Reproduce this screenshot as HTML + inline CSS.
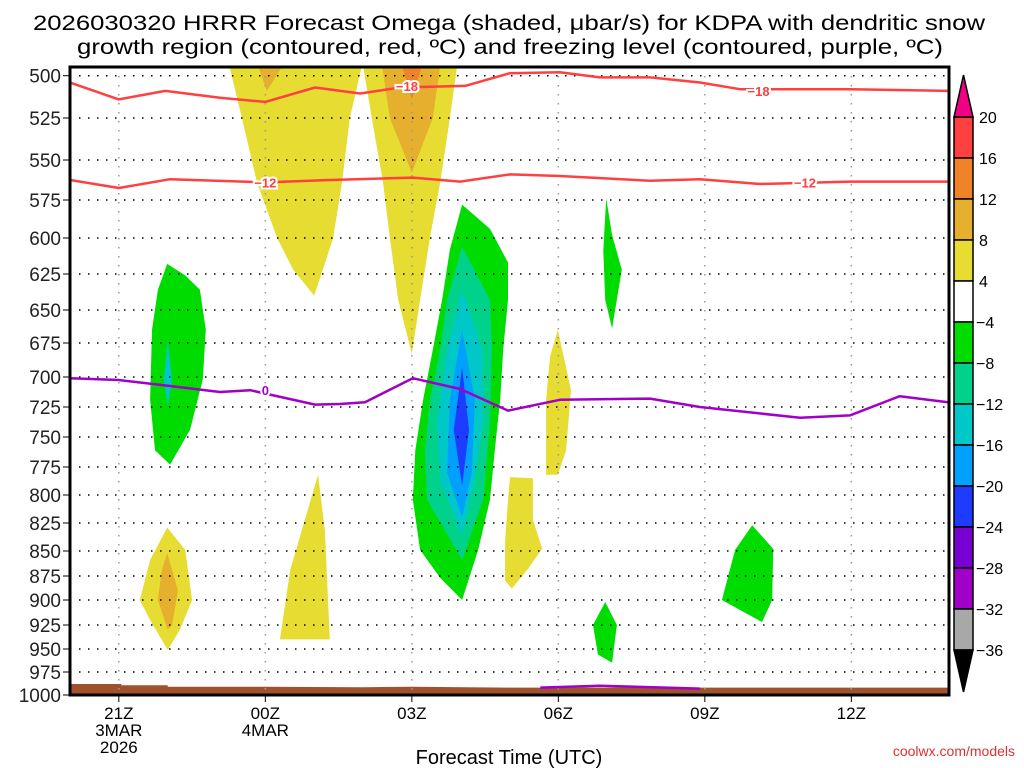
<!DOCTYPE html>
<html><head><meta charset="utf-8"><style>
body{margin:0;background:#fff;}
svg{display:block;font-family:"Liberation Sans",sans-serif;}
</style></head><body>
<svg id="chart" width="1024" height="768" viewBox="0 0 1024 768" xmlns="http://www.w3.org/2000/svg">
<g id="title">
<text x="33" y="30" font-size="21" textLength="952" lengthAdjust="spacingAndGlyphs">2026030320 HRRR Forecast Omega (shaded, μbar/s) for KDPA with dendritic snow</text>
<text x="77" y="54" font-size="21" textLength="866" lengthAdjust="spacingAndGlyphs">growth region (contoured, red, ºC) and freezing level (contoured, purple, ºC)</text>
</g>
<g id="fills"></g>
<g id="grid"></g>
<g id="lines"></g>
<g id="axes"></g>
<g id="cbar"></g>
<text x="509" y="764" font-size="20" text-anchor="middle">Forecast Time (UTC)</text>
<text x="1015" y="756" font-size="14" fill="#e03030" text-anchor="end">coolwx.com/models</text>
</svg>
<script>
// ---- data ----
const pressureTicks = [500,525,550,575,600,625,650,675,700,725,750,775,800,825,850,875,900,925,950,975,1000];
const pressureTickY = [75.7,118,160,200,238,274,310,343,377,407,437,467,495,523,551,576,600,625,649,672,695];
const timeTicks = [21,24,27,30,33,36];
const timeTickLabels = [["21Z","3MAR","2026"],["00Z","4MAR"],["03Z"],["06Z"],["09Z"],["12Z"]];
const cbarLevels = ["20","16","12","8","4","−4","−8","−12","−16","−20","−24","−28","−32","−36"];
const cbarColors = ["#ff4040","#f08228","#e6af2d","#e6dc32","#ffffff","#00dc00","#00d28c","#00c8c8","#00a0ff","#1e3cff","#7800d2","#a000c8","#a8a8a8"];
// shaded omega regions: [color, [[hour, hPa],...]]
const greenLeft = [[21.99,618],[22.36,626],[22.66,636],[22.78,665],[22.72,702],[22.46,744],[22.05,773],[21.74,761],[21.64,719],[21.68,665],[21.8,636]];
const cyanLeft = [[22.0,673],[22.09,702],[22.0,724],[21.92,702]];
const yellowLeft = [[21.99,829],[22.36,849],[22.5,900],[22.25,930],[22.0,951],[21.64,920],[21.43,900],[21.64,859]];
const orangeLeft = [[21.99,852],[22.21,890],[22.09,925],[22.0,930],[21.8,900],[21.88,869]];
const yellowTop1 = [[23.26,494],[25.98,494],[25.73,525],[25.57,564],[25.39,600],[25.0,640],[24.57,622],[24.24,600],[23.83,564],[23.52,525]];
const orangeTop1 = [[23.85,494],[24.36,494],[24.03,509]];
const yellowTop2 = [[26.0,494],[27.93,494],[27.78,525],[27.58,564],[27.37,600],[27.17,643],[27.0,683],[26.72,643],[26.55,600],[26.41,564],[26.18,525]];
const goldTop2 = [[26.39,494],[27.58,494],[27.43,525],[27.0,558],[26.55,525]];
const orangeTop2 = [[26.8,494],[27.21,494],[27.0,514]];
const yellowLow1 = [[25.08,782],[25.22,832],[25.32,940],[24.3,940],[24.51,869],[24.81,822]];
const yellowLow2 = [[29.01,784],[29.48,785],[29.48,822],[29.67,848],[29.36,869],[29.05,888],[28.91,880],[28.91,841],[28.97,804]];
const yellowMid = [[29.99,665],[30.26,711],[30.16,761],[29.99,782],[29.75,782],[29.75,719],[29.83,685]];
const greenBig = [[28.03,578],[28.6,594],[28.97,617],[28.97,643],[28.87,680],[28.81,719],[28.7,761],[28.6,804],[28.36,849],[28.03,900],[27.58,877],[27.17,849],[27.02,804],[27.07,761],[27.23,719],[27.43,680],[27.62,643],[27.78,608]];
const tealBig = [[28.03,606],[28.6,643],[28.64,680],[28.6,736],[28.46,804],[28.03,859],[27.31,804],[27.27,761],[27.37,719],[27.58,680],[27.72,643]];
const cyanBig = [[28.03,636],[28.44,680],[28.46,736],[28.29,787],[28.03,836],[27.58,787],[27.52,736],[27.72,680]];
const lblueBig = [[28.03,665],[28.29,719],[28.23,780],[28.03,820],[27.72,780],[27.78,719]];
const blueBig = [[28.03,693],[28.17,744],[28.03,792],[27.86,744]];
const green07a = [[30.98,574],[31.1,598],[31.3,622],[31.1,664],[30.96,643],[30.92,609]];
const green07b = [[30.96,902],[31.2,925],[31.1,965],[30.81,956],[30.71,925]];
const green10 = [[33.97,827],[34.4,848],[34.38,900],[34.17,922],[33.72,910],[33.35,900],[33.62,849]];
// contours
const minus18Hours = [20,21,21.95,23.07,24,25.02,25.94,26.76,28.09,29.01,30.03,30.85,31.88,32.9,33.72,35.97,37.98];
const minus18P = [504,514,509,513,515.5,507,510.5,507,506,498.5,498,501,501,504,508,508,509];
const minus12Hours = [20,21,22.05,24,25.32,27.02,27.99,29.01,30.03,31.88,32.9,34.13,35.97,37.98];
const minus12P = [562.5,567.5,562,564,562.5,561,563.5,559,560,563,562,565,563.5,563.5];
const zeroHours = [20,21,22.05,23.07,23.69,25.02,25.53,26.04,27.02,27.99,28.97,30.03,31.88,32.9,34.95,35.97,36.99,37.98];
const zeroP = [701,702.5,707.5,712.5,711,723,722.5,721,701,710,728,719,718,725,734,732,716,721];
const zeroLowHours = [29.63,30.85,32.9];
const zeroLowP = [992,990,993];
const surfHours = [20,21.05,21.05,22.0,22.0,24,26,27,29,38];
const surfP = [988,988,989.5,989.5,991,991,991.5,991,992,992];

// ---- axes functions ----
const X0=70,X1=949,H0=20,H1=38;
function xs(h){return X0+(h-H0)/(H1-H0)*(X1-X0);}
function ys(p){
  if(p<=pressureTicks[0]) return pressureTickY[0]-(pressureTicks[0]-p)*(pressureTickY[1]-pressureTickY[0])/25;
  for(let i=0;i<pressureTicks.length-1;i++){
    if(p<=pressureTicks[i+1]){return pressureTickY[i]+(p-pressureTicks[i])/(pressureTicks[i+1]-pressureTicks[i])*(pressureTickY[i+1]-pressureTickY[i]);}
  }
  return pressureTickY[pressureTickY.length-1];
}
const NS="http://www.w3.org/2000/svg";
function mk(tag,attrs,parent){const e=document.createElementNS(NS,tag);for(const k in attrs)e.setAttribute(k,attrs[k]);parent.appendChild(e);return e;}
const fills=document.getElementById('fills'),grid=document.getElementById('grid'),lines=document.getElementById('lines'),axes=document.getElementById('axes'),cbar=document.getElementById('cbar');
// clip
const defs=mk('defs',{},document.getElementById('chart'));
const cp=mk('clipPath',{id:'plotclip'},defs);mk('rect',{x:X0,y:67,width:X1-X0,height:695-67},cp);
fills.setAttribute('clip-path','url(#plotclip)');lines.setAttribute('clip-path','url(#plotclip)');

const regions=[
 ["#e6dc32",yellowTop1,"omega-region-yellow-top-1"],["#e6af2d",orangeTop1,"omega-region-gold-top-1"],
 ["#e6dc32",yellowTop2,"omega-region-yellow-top-2"],["#e6af2d",goldTop2,"omega-region-gold-top-2"],["#f08228",orangeTop2,"omega-region-orange-top-2"],
 ["#e6dc32",yellowLow1,"omega-region-yellow-low-1"],["#e6dc32",yellowLow2,"omega-region-yellow-low-2"],["#e6dc32",yellowMid,"omega-region-yellow-mid"],
 ["#e6dc32",yellowLeft,"omega-region-yellow-left"],["#e6af2d",orangeLeft,"omega-region-gold-left"],
 ["#00dc00",greenLeft,"omega-region-green-left"],["#00c8c8",cyanLeft,"omega-region-cyan-left"],
 ["#00dc00",greenBig,"omega-region-green-main"],["#00d28c",tealBig,"omega-region-teal-main"],["#00c8c8",cyanBig,"omega-region-cyan-main"],["#00a0ff",lblueBig,"omega-region-lightblue-main"],["#1e3cff",blueBig,"omega-region-blue-main"],
 ["#00dc00",green07a,"omega-region-green-07z-upper"],["#00dc00",green07b,"omega-region-green-07z-lower"],["#00dc00",green10,"omega-region-green-10z"]
];
regions.forEach(r=>{
  const el=mk('polygon',{points:r[1].map(q=>xs(q[0]).toFixed(1)+","+ys(q[1]).toFixed(1)).join(" "),fill:r[0]},fills);
  
  
});
// ground
{
  let pts=surfHours.map((h,i)=>xs(h).toFixed(1)+","+ys(surfP[i]).toFixed(1));
  pts.push(xs(38)+","+ys(1000+5),xs(20)+","+ys(1000+5));
  const g=mk('polygon',{points:pts.join(" "),fill:"#a0522d"},fills);
  
  
}
// grid
pressureTicks.forEach(p=>{
  const l=mk('line',{x1:X0,x2:X1,y1:ys(p),y2:ys(p),stroke:"#000","stroke-width":1.5,"stroke-dasharray":"1.5 7.5"},grid);
  
  
});
timeTicks.forEach(h=>{
  const l=mk('line',{x1:xs(h),x2:xs(h),y1:67,y2:695,stroke:"#999","stroke-width":1.5,"stroke-dasharray":"1.5 7.5"},grid);
  
  
});
// contours
function poly(hs,ps,color,name,w){
  const el=mk('polyline',{points:hs.map((h,i)=>xs(h).toFixed(1)+","+ys(ps[i]).toFixed(1)).join(" "),fill:"none",stroke:color,"stroke-width":w||2.5,"stroke-linejoin":"round"},lines);
  
  
}
poly(minus18Hours,minus18P,"#ff4040","contour-minus18");
poly(minus12Hours,minus12P,"#ff4040","contour-minus12");
poly(zeroHours,zeroP,"#a000c8","freezing-level-contour");
poly(zeroLowHours,zeroLowP,"#a000c8","freezing-level-contour-low");
function clabel(h,p,txt,color,name){
  const t=mk('text',{x:xs(h),y:ys(p)+5,fill:color,"font-size":13,"font-weight":"bold","text-anchor":"middle",stroke:"#fff","stroke-width":4,"paint-order":"stroke"},lines);
  t.textContent=txt;
  
  
}
clabel(26.9,506,"−18","#ff4040","contour-label-minus18-a");
clabel(34.1,509,"−18","#ff4040","contour-label-minus18-b");
clabel(24.0,564,"−12","#ff4040","contour-label-minus12-a");
clabel(35.05,564,"−12","#ff4040","contour-label-minus12-b");
clabel(24.0,711,"0","#a000c8","contour-label-zero");
// frame
{const f=mk('rect',{x:X0,y:67,width:X1-X0,height:695-67,fill:"none",stroke:"#000","stroke-width":3},axes);

}
pressureTicks.forEach(p=>{
  mk('line',{x1:X0-7,x2:X0,y1:ys(p),y2:ys(p),stroke:"#000","stroke-width":1},axes);
  const t=mk('text',{x:X0-9,y:ys(p)+7,"font-size":19,"text-anchor":"end",fill:"#222"},axes);
  t.textContent=p;
  
  
});
timeTicks.forEach((h,i)=>{
  mk('line',{x1:xs(h),x2:xs(h),y1:695,y2:702,stroke:"#000","stroke-width":1},axes);
  timeTickLabels[i].forEach((s,j)=>{
    const t=mk('text',{x:xs(h),y:719+j*17,"font-size":17,"text-anchor":"middle"},axes);
    t.textContent=s;
    
    
  });
});
// colorbar
const CX=954,CW=19,CY0=117,CH=41;
cbarColors.forEach((c,i)=>{
  const r=mk('rect',{x:CX,y:CY0+i*CH,width:CW,height:CH,fill:c,stroke:"#000","stroke-width":1.5},cbar);
  
  
});
{const t1=mk('polygon',{points:`${CX},${CY0} ${CX+CW},${CY0} ${CX+CW/2},75`,fill:"#f00082",stroke:"#000","stroke-width":1.5},cbar);


const yb=CY0+cbarColors.length*CH;
const t2=mk('polygon',{points:`${CX},${yb} ${CX+CW},${yb} ${CX+CW/2},692`,fill:"#000",stroke:"#000","stroke-width":1.5},cbar);

}
cbarLevels.forEach((s,i)=>{
  const t=mk('text',{x:CX+CW+6+(s.startsWith("−")?-3:0),y:CY0+i*CH+6,"font-size":16},cbar);
  t.textContent=s;
  
  
});
</script>
</body></html>
